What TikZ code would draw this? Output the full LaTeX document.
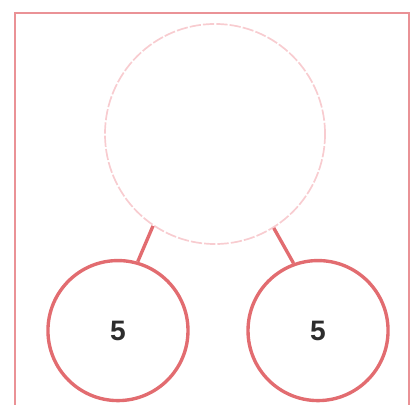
\documentclass[tikz,border=0pt]{standalone}
\usepackage{fontspec}
\setsansfont{Liberation Sans}
\usetikzlibrary{positioning}
\definecolor{bondcolor}{RGB}{226,108,112}
\definecolor{framecolor}{RGB}{234,146,150}
\definecolor{wholecolor}{RGB}{248,204,208}
\definecolor{digitcolor}{RGB}{45,45,45}

\begin{document}
\begin{tikzpicture}[x=0.025cm, y=-0.025cm,
  whole/.style={circle, draw=wholecolor, dash pattern=on 8pt off 1.5pt,
                line width=1.2pt, minimum size=5.5cm, inner sep=0pt},
  part/.style={circle, draw=bondcolor, line width=2.4pt, minimum size=3.5cm,
               inner sep=0pt, text=digitcolor,
               font=\sffamily\bfseries\fontsize{20}{22}\selectfont},
  bond/.style={draw=bondcolor, line width=2.4pt}
]
\useasboundingbox (0,0) rectangle (412,405);
\clip (0,0) rectangle (412,405);
% frame
\draw[framecolor, line width=1.9pt] (15,13) rectangle (409,430);

% whole
\node[whole] (w) at (215,134) {};

% parts
\node[part, below=0.35cm of w, xshift=-2.425cm] (p1) {5};
\node[part, below=0.35cm of w, xshift= 2.575cm] (p2) {5};

% bonds
\draw[bond] (w.236) -- (p1.74);
\draw[bond] (w.302) -- (p2.110);
\end{tikzpicture}
\end{document}
